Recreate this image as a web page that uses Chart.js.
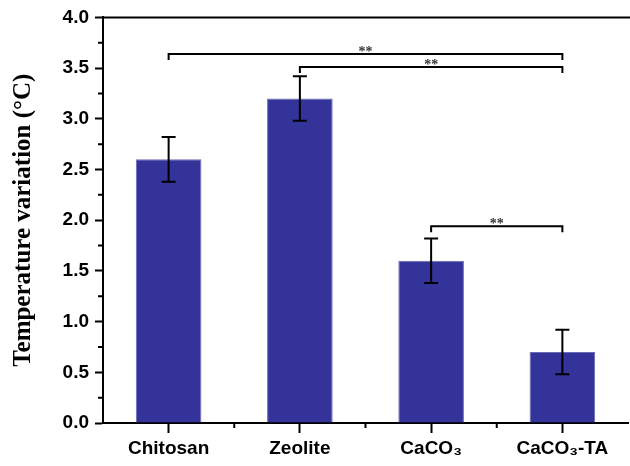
<!DOCTYPE html>
<html>
<head>
<meta charset="utf-8">
<script src="https://cdn.jsdelivr.net/npm/chart.js@4"></script>
<style>
  html, body { margin: 0; padding: 0; background: #fff; }
  #wrap { width: 630px; height: 466px; }
</style>
</head>
<body>
<div id="wrap"><canvas id="chart" width="630" height="466"></canvas></div>
<script>
// values
const categories = ['Chitosan', 'Zeolite', 'CaCO\u2083', 'CaCO\u2083-TA'];
const tempVariation = [2.6, 3.2, 1.6, 0.7];
const errors = [0.22, 0.22, 0.22, 0.22];

// significance brackets (category index from / to, level in data units)
const bracketFrom = [0, 1, 2];
const bracketTo = [3, 3, 3];
const bracketLevel = [3.64, 3.51, 1.94];
const bracketLabel = ['**', '**', '**'];

const yTicks = [0, 0.5, 1.0, 1.5, 2.0, 2.5, 3.0, 3.5, 4.0];

const extras = {
    id: 'extras',
    afterDatasetsDraw(chart) {
        const ctx = chart.ctx;
        const x = chart.scales.x;
        const y = chart.scales.y;
        const area = chart.chartArea;
        ctx.save();
        ctx.strokeStyle = '#000';
        ctx.lineWidth = 2;

        // error bars
        const meta = chart.getDatasetMeta(0);
        meta.data.forEach((bar, i) => {
            const top = y.getPixelForValue(tempVariation[i] + errors[i]);
            const bot = y.getPixelForValue(tempVariation[i] - errors[i]);
            ctx.beginPath();
            ctx.moveTo(bar.x, top); ctx.lineTo(bar.x, bot);
            ctx.moveTo(bar.x - 7, top); ctx.lineTo(bar.x + 7, top);
            ctx.moveTo(bar.x - 7, bot); ctx.lineTo(bar.x + 7, bot);
            ctx.stroke();
        });

        // brackets
        ctx.font = 'bold 14px "Liberation Serif", "Times New Roman", serif';
        ctx.textAlign = 'center';
        ctx.textBaseline = 'alphabetic';
        bracketLevel.forEach((lv, i) => {
            const x1 = x.getPixelForValue(bracketFrom[i]);
            const x2 = x.getPixelForValue(bracketTo[i]);
            const yy = y.getPixelForValue(lv);
            ctx.lineWidth = 2;
            ctx.beginPath();
            ctx.moveTo(x1, yy + 6); ctx.lineTo(x1, yy);
            ctx.lineTo(x2, yy); ctx.lineTo(x2, yy + 6);
            ctx.stroke();
            ctx.fillStyle = '#333';
            ctx.fillText(bracketLabel[i], (x1 + x2) / 2, yy + 2);
        });

        // top frame line
        ctx.lineWidth = 2;
        ctx.beginPath();
        ctx.moveTo(area.left - 1, area.top);
        ctx.lineTo(chart.width, area.top);
        ctx.stroke();

        // minor ticks on y
        ctx.lineWidth = 2;
        ctx.beginPath();
        for (let k = 0; k < yTicks.length - 1; k++) {
            const py = y.getPixelForValue((yTicks[k] + yTicks[k + 1]) / 2);
            ctx.moveTo(area.left - 5, py);
            ctx.lineTo(area.left, py);
        }
        // minor ticks on x, between categories
        for (let k = 0; k < categories.length - 1; k++) {
            const px = (x.getPixelForValue(k) + x.getPixelForValue(k + 1)) / 2;
            ctx.moveTo(px, area.bottom);
            ctx.lineTo(px, area.bottom + 5);
        }
        ctx.stroke();
        ctx.restore();
    }
};

const ctx = document.getElementById('chart').getContext('2d');
const myChart = new Chart(ctx, {
    type: 'bar',
    data: {
        labels: categories,
        datasets: [{
            data: tempVariation,
            backgroundColor: '#333399',
            borderColor: '#6a6ab4',
            borderWidth: 1,
            barPercentage: 0.5,
            categoryPercentage: 1.0
        }]
    },
    options: {
        responsive: false,
        animation: false,
        layout: { padding: { top: 15, right: 2, left: 0, bottom: 0 } },
        plugins: { legend: { display: false }, tooltip: { enabled: false } },
        scales: {
            x: {
                offset: true,
                grid: { offset: false, drawOnChartArea: false, tickLength: 10, tickWidth: 2, tickColor: '#000' },
                border: { color: '#000', width: 2 },
                ticks: {
                    color: '#000',
                    padding: 4,
                    maxRotation: 0,
                    font: { family: '"Liberation Sans", Arial, sans-serif', size: 19, weight: 'bold' }
                },
                afterFit(scale) { scale.height = 43; }
            },
            y: {
                min: 0,
                max: 4,
                afterBuildTicks(scale) { scale.ticks = yTicks.map(v => ({ value: v })); },
                grid: { drawOnChartArea: false, tickLength: 8, tickWidth: 2, tickColor: '#000' },
                border: { color: '#000', width: 2 },
                ticks: {
                    color: '#000',
                    padding: 6,
                    callback: v => v.toFixed(1),
                    font: { family: '"Liberation Sans", Arial, sans-serif', size: 19, weight: 'bold' }
                },
                title: {
                    display: true,
                    text: 'Temperature variation (\u00B0C)',
                    color: '#000',
                    padding: { top: 9, bottom: 0 },
                    font: { family: '"Liberation Serif", "Times New Roman", serif', size: 25, weight: 'bold' }
                },
                afterFit(scale) { scale.width = 103; }
            }
        }
    },
    plugins: [extras]
});
</script>
</body>
</html>
